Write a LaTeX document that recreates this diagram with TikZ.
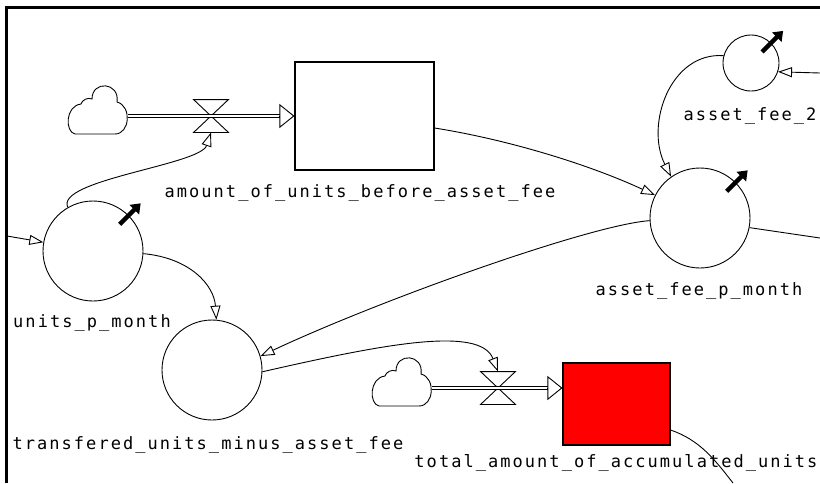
\documentclass[tikz,border=0pt]{standalone}
\usepackage{fontspec}
\newfontfamily\vensim[LetterSpace=12]{DejaVu Sans Mono}
\usetikzlibrary{arrows.meta,calc}

\begin{document}
\begin{tikzpicture}[x=1pt,y=-1pt,line width=0.9pt,>={Triangle[open,length=14pt,width=10pt]},
  stock/.style={draw,line width=1.1pt,inner sep=0pt},
  aux/.style={draw,circle,inner sep=0pt,minimum size=100pt},
  valvula/.style={inner sep=0pt,minimum width=34pt,minimum height=32pt},
  nube/.style={inner sep=0pt,minimum width=60pt,minimum height=50pt},
  tubo/.style={double=white,double distance=2pt,line width=1.1pt},
  punta/.style={-{Triangle[open,length=15pt,width=24pt]}},
  perilla/.style={line width=4.5pt,-{Triangle[length=9pt,width=13pt]}},
  etiq/.style={font=\vensim\fontsize{17pt}{20pt}\selectfont,inner sep=0pt}]
  \useasboundingbox (0,0) rectangle (820,483);
  % niveles y variables
  \node[stock,minimum width=139pt,minimum height=108pt] (stockA) at (364.5,116) {};
  \node[stock,fill=red,minimum width=107pt,minimum height=82pt] (stockB) at (616.5,404) {};
  \node[aux] (unidades) at (93,251) {};
  \node[aux] (transf) at (212,370) {};
  \node[aux] (cuota) at (700,218) {};
  \node[aux,minimum size=56pt] (cuota2) at (751,63) {};
  \node[valvula] (valA) at (211,116) {};
  \node[valvula] (valB) at (498,388) {};
  \node[nube] (nubeA) at (98,110) {};
  \node[nube] (nubeB) at (402,382) {};
  \coordinate (entU) at (7,236);
  \coordinate (entC2) at (820,73);
  \coordinate (salC) at (820,238);
  \coordinate (salS) at (733,483);
  % etiquetas
  \node[etiq] (lStockA) at (360,193) {amount\_of\_units\_before\_asset\_fee};
  \node[etiq] (lUnid) at (92,323) {units\_p\_month};
  \node[etiq] (lTransf) at (208,445) {transfered\_units\_minus\_asset\_fee};
  \node[etiq] (lCuota) at (699,291) {asset\_fee\_p\_month};
  \node[etiq] (lCuota2) at (750,116) {asset\_fee\_2};
  \node[etiq] (lStockB) at (616,463) {total\_amount\_of\_accumulated\_units};
  % nubes, valvulas y perillas
  \foreach \c in {nubeA,nubeB}
    \draw[shift={(\c.center)}] (-23,24) -- (17,24) .. controls (32,24) and (34,-4) .. (19,-8)
      .. controls (22,-28) and (-6,-30) .. (-6,-11) .. controls (-10,-13) and (-16,-10) .. (-17,-6)
      .. controls (-33,-4) and (-33,22) .. (-23,24) -- cycle;
  \foreach \v in {valA,valB}
    \draw (\v.north west) -- (\v.north east) -- (\v.center) -- cycle
      (\v.south west) -- (\v.south east) -- (\v.center) -- cycle;
  \foreach \n in {unidades,cuota,cuota2}
    \draw[perilla] (\n.45) ++(-9,9) -- ++(21,-21);
  % flujos
  \draw[tubo] (nubeA.east |- valA) -- ($(valA -| stockA.west)+(-14,0)$);
  \draw[punta] ($(valA -| stockA.west)+(-15,0)$) -- (valA -| stockA.west);
  \draw[tubo] (nubeB.east |- valB) -- ($(valB -| stockB.west)+(-14,0)$);
  \draw[punta] ($(valB -| stockB.west)+(-15,0)$) -- (valB -| stockB.west);
  % enlaces
  \draw[->] (entU) -- (unidades.170);
  \draw[->] (unidades.120) .. controls (55,180) and (200,165) .. (valA.south);
  \draw[->] (unidades.-3) .. controls (190,258) and (214,285) .. (transf.85);
  \draw[->] ([yshift=-12pt]stockA.east) .. controls (510,140) and (590,165) .. (cuota.153);
  \draw[->] (cuota2.165) .. controls (670,52) and (645,125) .. (cuota.125);
  \draw[->] (entC2) -- (cuota2.-18);
  \draw[->] (cuota.183) .. controls (590,225) and (380,300) .. (transf.16);
  \draw (cuota.-11) -- (salC);
  \draw[->] (transf.-2) .. controls (380,345) and (480,325) .. (valB.north);
  \draw ([yshift=-26pt]stockB.east) .. controls (700,440) and (715,460) .. (salS);
  % marco
  \draw[line width=3pt] (6,483) -- (6,7) -- (820,7);
\end{tikzpicture}
\end{document}
